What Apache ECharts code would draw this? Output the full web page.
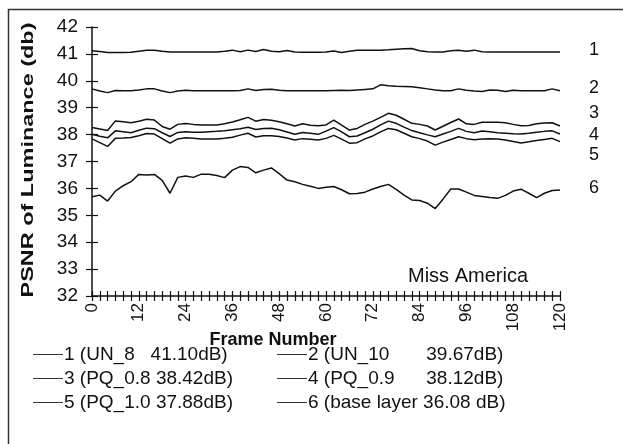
<!DOCTYPE html>
<html><head><meta charset="utf-8">
<script src="https://cdn.jsdelivr.net/npm/echarts@6/dist/echarts.min.js"></script>
<style>html,body{margin:0;padding:0;background:#fff}#c{width:623px;height:444px}</style>
</head><body><div id="c"></div>
<script>
const frames = [0,2,4,6,8,10,12,14,16,18,20,22,24,26,28,30,32,34,36,38,40,42,44,46,48,50,52,54,56,58,60,62,64,66,68,70,72,74,76,78,80,82,84,86,88,90,92,94,96,98,100,102,104,106,108,110,112,114,116,118,120];
const xTicks = [0,12,24,36,48,60,72,84,96,108,120];
const yTicks = [32,33,34,35,36,37,38,39,40,41,42];
const seriesNames = ['1 (UN_8   41.10dB)','2 (UN_10       39.67dB)','3 (PQ_0.8 38.42dB)','4 (PQ_0.9      38.12dB)','5 (PQ_1.0 37.88dB)','6 (base layer 36.08 dB)'];
const endTags = ['1','2','3','4','5','6'];
const un8 = [41.12,41.09,41.05,41.05,41.05,41.06,41.10,41.14,41.14,41.10,41.07,41.07,41.07,41.07,41.07,41.07,41.07,41.10,41.14,41.08,41.14,41.09,41.16,41.10,41.08,41.13,41.07,41.06,41.06,41.06,41.07,41.11,41.05,41.10,41.14,41.14,41.14,41.14,41.15,41.17,41.19,41.20,41.12,41.08,41.07,41.07,41.12,41.14,41.10,41.14,41.08,41.07,41.07,41.07,41.07,41.07,41.07,41.07,41.07,41.07,41.07];
const un10 = [39.70,39.62,39.56,39.64,39.63,39.63,39.66,39.70,39.70,39.62,39.56,39.62,39.65,39.63,39.63,39.63,39.63,39.63,39.63,39.64,39.70,39.64,39.68,39.69,39.65,39.63,39.63,39.63,39.63,39.63,39.63,39.64,39.65,39.64,39.66,39.68,39.70,39.85,39.82,39.80,39.79,39.78,39.74,39.70,39.66,39.63,39.63,39.70,39.65,39.62,39.60,39.66,39.65,39.60,39.65,39.63,39.63,39.63,39.63,39.70,39.63];
const pq08 = [38.26,38.21,38.15,38.51,38.48,38.44,38.50,38.57,38.54,38.30,38.20,38.38,38.41,38.38,38.36,38.36,38.36,38.40,38.47,38.55,38.64,38.50,38.56,38.53,38.48,38.40,38.32,38.40,38.35,38.33,38.36,38.54,38.35,38.17,38.23,38.38,38.50,38.64,38.79,38.72,38.57,38.42,38.38,38.32,38.17,38.31,38.45,38.58,38.40,38.38,38.46,38.46,38.46,38.44,38.38,38.33,38.34,38.40,38.43,38.44,38.32];
const pq09 = [38.01,37.94,37.88,38.14,38.11,38.07,38.16,38.24,38.22,38.07,37.93,38.08,38.11,38.09,38.09,38.11,38.12,38.14,38.18,38.22,38.27,38.19,38.23,38.24,38.18,38.10,38.01,38.08,38.05,38.01,38.13,38.26,38.10,37.92,37.95,38.07,38.20,38.36,38.50,38.42,38.28,38.15,38.07,37.99,37.92,38.02,38.12,38.23,38.12,38.07,38.13,38.11,38.07,38.05,38.03,38.02,38.05,38.09,38.12,38.14,38.02];
const pq10 = [37.84,37.70,37.56,37.86,37.87,37.89,37.96,38.04,38.02,37.85,37.68,37.84,37.88,37.86,37.84,37.84,37.84,37.86,37.90,37.98,38.05,37.91,37.96,37.96,37.93,37.87,37.80,37.85,37.83,37.80,37.86,37.97,37.83,37.68,37.70,37.84,37.95,38.10,38.23,38.18,38.05,37.92,37.85,37.76,37.61,37.72,37.82,37.92,37.85,37.81,37.84,37.85,37.84,37.80,37.74,37.69,37.73,37.78,37.82,37.86,37.74];
const base = [35.69,35.75,35.53,35.90,36.10,36.25,36.52,36.50,36.52,36.30,35.82,36.41,36.46,36.41,36.53,36.53,36.48,36.40,36.68,36.81,36.78,36.58,36.68,36.76,36.55,36.31,36.25,36.15,36.08,36.00,36.04,36.07,35.95,35.80,35.81,35.86,35.98,36.07,36.15,35.96,35.75,35.57,35.55,35.45,35.25,35.60,35.98,35.98,35.86,35.74,35.70,35.66,35.63,35.74,35.90,35.97,35.82,35.66,35.82,35.92,35.94];
const allValues = [un8, un10, pq08, pq09, pq10, base];
const endOffsets = [[21,-2],[21,-3],[21,-13],[21,1],[21,13],[21,-2]];

const FONT = '"Liberation Sans", Arial, sans-serif';
const INK = '#111';
const chart = echarts.init(document.getElementById('c'), null, {renderer:'canvas'});

function xAx(inside, main){
  return {type:'value', position:'bottom', min:xTicks[0], max:xTicks[xTicks.length-1], interval:12,
    axisLine:{show:main, onZero:false, lineStyle:{color:INK, width:1.5}},
    axisTick:{show:true, inside:inside, length:5, lineStyle:{color:INK, width:1.2}},
    minorTick:{show:true, splitNumber:6, length:5, lineStyle:{color:INK, width:1.2}},
    splitLine:{show:false}, minorSplitLine:{show:false},
    axisLabel:{show:main, rotate:90, margin:7, fontSize:17, color:INK, fontFamily:FONT}};
}
function yAx(inside, main){
  return {type:'value', position:'left', min:yTicks[0], max:yTicks[yTicks.length-1], interval:1,
    axisLine:{show:main, onZero:false, lineStyle:{color:INK, width:1.5}},
    axisTick:{show:true, inside:inside, length:6, lineStyle:{color:INK, width:1.2}},
    splitLine:{show:false},
    axisLabel:{show:main, margin:14, fontSize:19, color:INK, fontFamily:FONT}};
}

const series = allValues.map((vals, k) => ({
  name: seriesNames[k], type:'line', xAxisIndex:0, yAxisIndex:0,
  data: frames.map((f, i) => [f, vals[i]]),
  symbol:'none', smooth:false, animation:false,
  lineStyle:{color:INK, width:1.5}, itemStyle:{color:INK},
  endLabel:{show:true, formatter: endTags[k], offset: endOffsets[k], fontSize:18, color:INK, fontFamily:FONT}
}));

const legendBase = {orient:'vertical', top:345, padding:0, itemWidth:30, itemHeight:12, itemGap:5,
  icon:'path://M0,0L30,0L30,1L0,1Z',
  textStyle:{fontSize:19, color:INK, fontFamily:FONT, padding:[0,0,0,-4]},
  lineStyle:{width:1, color:'#333'}, itemStyle:{color:'#333'}};

chart.setOption({
  animation:false,
  backgroundColor:'#fff',
  grid:{left:92, right:63, top:27, bottom:148, containLabel:false},
  xAxis:[xAx(false,true), xAx(true,false)],
  yAxis:[yAx(false,true), yAx(true,false)],
  legend:[
    Object.assign({}, legendBase, {left:33, data:[seriesNames[0], seriesNames[2], seriesNames[4]]}),
    Object.assign({}, legendBase, {left:277, data:[seriesNames[1], seriesNames[3], seriesNames[5]]})
  ],
  series: series,
  graphic:[
    {type:'rect', shape:{x:8.5, y:9.5, width:640, height:460}, style:{fill:'none', stroke:'#333', lineWidth:1.5}, silent:true},
    {type:'text', x:28, y:160, rotation:Math.PI/2, scaleX:1.38,
      style:{text:'PSNR of Luminance (db)', fontSize:17, fontWeight:'bold', fontFamily:FONT, fill:INK, align:'center', verticalAlign:'middle'}},
    {type:'text', x:273, y:340,
      style:{text:'Frame Number', fontSize:18, fontWeight:'bold', fontFamily:FONT, fill:INK, align:'center', verticalAlign:'middle'}},
    {type:'text', x:408, y:276,
      style:{text:'Miss America', fontSize:20, fontFamily:FONT, fill:INK, align:'left', verticalAlign:'middle'}}
  ]
});
</script></body></html>
